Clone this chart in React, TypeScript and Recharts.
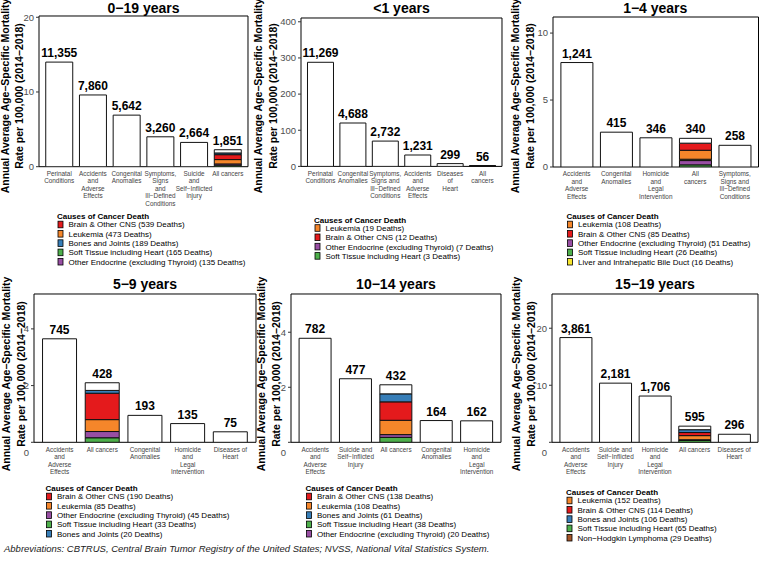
import { Bar, BarChart, CartesianGrid, LabelList, XAxis, YAxis } from "recharts";

const FONT = "'Liberation Sans', Arial, sans-serif";

// stacking order, bottom to top
const CANCER_KEYS = ["soft", "endo", "nhl", "liver", "leuk", "brain", "bones", "other"];

const CANCER_COLORS: Record<string, string> = {
  soft: "#4DAF4A",
  endo: "#984EA3",
  nhl: "#A65628",
  liver: "#F7E62D",
  leuk: "#F5862A",
  brain: "#E41A1C",
  bones: "#377EB8",
  other: "#FFFFFF",
};

// 0-19 years
const CAT_0_19 = [
  "Perinatal\nConditions",
  "Accidents\nand\nAdverse\nEffects",
  "Congenital\nAnomalies",
  "Symptoms,\nSigns\nand\nIll−Defined\nConditions",
  "Suicide\nand\nSelf−Inflicted\nInjury",
  "All cancers",
];
const RATE_0_19 = [14.0, 9.6, 6.9, 4.0, 3.25, null];
const DEATHS_0_19 = ["11,355", "7,860", "5,642", "3,260", "2,664", "1,851"];
const CANCER_0_19 = [0.2, 0.17, 0, 0, 0.58, 0.66, 0.23, 0.43];
const LEGEND_0_19 = [
  ["brain", "Brain & Other CNS (539 Deaths)"],
  ["leuk", "Leukemia (473 Deaths)"],
  ["bones", "Bones and Joints (189 Deaths)"],
  ["soft", "Soft Tissue including Heart (165 Deaths)"],
  ["endo", "Other Endocrine (excluding Thyroid) (135 Deaths)"],
];

// <1 years
const CAT_LT1 = [
  "Perinatal\nConditions",
  "Congenital\nAnomalies",
  "Symptoms,\nSigns and\nIll−Defined\nConditions",
  "Accidents\nand\nAdverse\nEffects",
  "Diseases\nof\nHeart",
  "All\ncancers",
];
const RATE_LT1 = [288, 120, 70, 31.5, 7.7, null];
const DEATHS_LT1 = ["11,269", "4,688", "2,732", "1,231", "299", "56"];
const CANCER_LT1 = [0.08, 0.18, 0, 0, 0.49, 0.31, 0, 0.37];
const LEGEND_LT1 = [
  ["leuk", "Leukemia (19 Deaths)"],
  ["brain", "Brain & Other CNS (12 Deaths)"],
  ["endo", "Other Endocrine (excluding Thyroid) (7 Deaths)"],
  ["soft", "Soft Tissue including Heart (3 Deaths)"],
];

// 1-4 years
const CAT_1_4 = [
  "Accidents\nand\nAdverse\nEffects",
  "Congenital\nAnomalies",
  "Homicide\nand\nLegal\nIntervention",
  "All\ncancers",
  "Symptoms,\nSigns and\nIll−Defined\nConditions",
];
const RATE_1_4 = [7.8, 2.6, 2.18, null, 1.62];
const DEATHS_1_4 = ["1,241", "415", "346", "340", "258"];
const CANCER_1_4 = [0.16, 0.32, 0, 0.1, 0.67, 0.53, 0, 0.36];
const LEGEND_1_4 = [
  ["leuk", "Leukemia (108 Deaths)"],
  ["brain", "Brain & Other CNS (85 Deaths)"],
  ["endo", "Other Endocrine (excluding Thyroid) (51 Deaths)"],
  ["soft", "Soft Tissue including Heart (26 Deaths)"],
  ["liver", "Liver and Intrahepatic Bile Duct (16 Deaths)"],
];

// 5-9 years
const CAT_5_9 = [
  "Accidents\nand\nAdverse\nEffects",
  "All cancers",
  "Congenital\nAnomalies",
  "Homicide\nand\nLegal\nIntervention",
  "Diseases of\nHeart",
];
const RATE_5_9 = [3.65, null, 0.95, 0.66, 0.37];
const DEATHS_5_9 = ["745", "428", "193", "135", "75"];
const CANCER_5_9 = [0.16, 0.22, 0, 0, 0.42, 0.93, 0.1, 0.27];
const LEGEND_5_9 = [
  ["brain", "Brain & Other CNS (190 Deaths)"],
  ["leuk", "Leukemia (85 Deaths)"],
  ["endo", "Other Endocrine (excluding Thyroid) (45 Deaths)"],
  ["soft", "Soft Tissue including Heart (33 Deaths)"],
  ["bones", "Bones and Joints (20 Deaths)"],
];

// 10-14 years
const CAT_10_14 = [
  "Accidents\nand\nAdverse\nEffects",
  "Suicide and\nSelf−Inflicted\nInjury",
  "All cancers",
  "Congenital\nAnomalies",
  "Homicide\nand\nLegal\nIntervention",
];
const RATE_10_14 = [3.78, 2.31, null, 0.79, 0.78];
const DEATHS_10_14 = ["782", "477", "432", "164", "162"];
const CANCER_10_14 = [0.18, 0.1, 0, 0, 0.52, 0.67, 0.29, 0.33];
const LEGEND_10_14 = [
  ["brain", "Brain & Other CNS (138 Deaths)"],
  ["leuk", "Leukemia (108 Deaths)"],
  ["bones", "Bones and Joints (61 Deaths)"],
  ["soft", "Soft Tissue including Heart (38 Deaths)"],
  ["endo", "Other Endocrine (excluding Thyroid) (20 Deaths)"],
];

// 15-19 years
const CAT_15_19 = [
  "Accidents\nand\nAdverse\nEffects",
  "Suicide and\nSelf−Inflicted\nInjury",
  "Homicide\nand\nLegal\nIntervention",
  "All cancers",
  "Diseases of\nHeart",
];
const RATE_15_19 = [18.36, 10.37, 8.11, null, 1.41];
const DEATHS_15_19 = ["3,861", "2,181", "1,706", "595", "296"];
const CANCER_15_19 = [0.31, 0, 0.14, 0, 0.72, 0.54, 0.5, 0.62];
const LEGEND_15_19 = [
  ["leuk", "Leukemia (152 Deaths)"],
  ["brain", "Brain & Other CNS (114 Deaths)"],
  ["bones", "Bones and Joints (106 Deaths)"],
  ["soft", "Soft Tissue including Heart (65 Deaths)"],
  ["nhl", "Non−Hodgkin Lymphoma (29 Deaths)"],
];

const PANELS = [
  { title: "0−19 years", cats: CAT_0_19, rates: RATE_0_19, deaths: DEATHS_0_19, cancer: CANCER_0_19, legend: LEGEND_0_19,
    box: [39, 248, 16, 166.7], yTop: 20.17, ticks: [0, 10, 20], yt: [9, 23], leg: [57, 219], bottom: false },
  { title: "<1 years", cats: CAT_LT1, rates: RATE_LT1, deaths: DEATHS_LT1, cancer: CANCER_LT1, legend: LEGEND_LT1,
    box: [301, 502, 18.3, 166.7], yTop: 410.5, ticks: [0, 100, 200, 300, 400], yt: [262, 277], leg: [314, 222.5], bottom: false },
  { title: "1−4 years", cats: CAT_1_4, rates: RATE_1_4, deaths: DEATHS_1_4, cancer: CANCER_1_4, legend: LEGEND_1_4,
    box: [552.5, 758, 16.7, 166.7], yTop: 11.2, ticks: [0, 5, 10], yt: [518.5, 533.5], leg: [566.5, 219], bottom: false },
  { title: "5−9 years", cats: CAT_5_9, rates: RATE_5_9, deaths: DEATHS_5_9, cancer: CANCER_5_9, legend: LEGEND_5_9,
    box: [34, 256, 294, 442.3], yTop: 5.23, ticks: [0, 2, 4], yt: [10, 25], leg: [45.5, 491], bottom: true },
  { title: "10−14 years", cats: CAT_10_14, rates: RATE_10_14, deaths: DEATHS_10_14, cancer: CANCER_10_14, legend: LEGEND_10_14,
    box: [291, 501, 294, 442.3], yTop: 5.39, ticks: [0, 2, 4], yt: [265, 280], leg: [305.5, 491], bottom: true },
  { title: "15−19 years", cats: CAT_15_19, rates: RATE_15_19, deaths: DEATHS_15_19, cancer: CANCER_15_19, legend: LEGEND_15_19,
    box: [552, 758, 294, 442.3], yTop: 26.0, ticks: [0, 10, 20], yt: [520, 535], leg: [566, 495], bottom: true },
];

function buildRows(cats: string[], rates: (number | null)[], deaths: string[], cancer: number[]) {
  return cats.map((cat, i) => {
    const isCancer = rates[i] == null;
    const row: Record<string, any> = {
      cat,
      main: isCancer ? 0 : rates[i],
      mainLabel: isCancer ? undefined : deaths[i],
      cancerLabel: isCancer ? deaths[i] : undefined,
    };
    CANCER_KEYS.forEach((k, j) => {
      row[k] = isCancer ? cancer[j] : 0;
    });
    return row;
  });
}

function renderValue(props: any) {
  const value = props.value;
  if (value == null || value === "") return null;
  const vb = props.viewBox ?? props;
  const x = Number(vb.x ?? props.x);
  const y = Number(vb.y ?? props.y);
  const w = Number(vb.width ?? props.width);
  return (
    <text x={x + w / 2} y={y - 5} textAnchor="middle" fontSize={12} fontWeight="bold" fill="#000" fontFamily={FONT}>
      {value}
    </text>
  );
}

function CatTick(props: any) {
  const { x, y, payload } = props;
  const lines = String(payload.value).split("\n");
  return (
    <text x={x} y={y + 9.3} textAnchor="middle" fontSize={6.4} fill="#444" fontFamily={FONT}>
      {lines.map((line, i) => (
        <tspan key={i} x={x} dy={i === 0 ? 0 : 7.5}>
          {line}
        </tspan>
      ))}
    </text>
  );
}

function ValueTick(props: any) {
  const { x, y, payload, shiftZero } = props;
  const v = payload.value;
  return (
    <text
      x={Number(x)}
      y={Number(y) + 3.4 + (shiftZero && v === 0 ? 10 : 0)}
      textAnchor="end"
      fontSize={9.5}
      fill="#4d4d4d"
      fontFamily={FONT}
    >
      {String(v)}
    </text>
  );
}

function Panel({ p }: { p: (typeof PANELS)[number] }) {
  const rows = buildRows(p.cats, p.rates, p.deaths, p.cancer);
  const [x0, x1, y0, y1] = p.box;
  const W = x1 - x0;
  const H = y1 - y0;
  const u = W / (p.cats.length + 0.2);
  const pad = 0.1 * u;
  const AXW = 36;
  const TOP = 4;
  const XH = 50;
  return (
    <div style={{ position: "absolute", left: x0 - AXW, top: y0 - TOP }}>
      <BarChart
        width={W + AXW + 4}
        height={H + TOP + XH}
        data={rows}
        margin={{ top: TOP, right: 4, left: 0, bottom: 0 }}
        barCategoryGap="10%"
      >
        <CartesianGrid
          stroke="#000"
          strokeWidth={1}
          horizontalCoordinatesGenerator={({ offset }: any) => [offset.top, offset.top + offset.height]}
          verticalCoordinatesGenerator={({ offset }: any) => [offset.left, offset.left + offset.width]}
        />
        <XAxis
          dataKey="cat"
          height={XH}
          interval={0}
          padding={{ left: pad, right: pad }}
          axisLine={false}
          tickLine={false}
          tickSize={0}
          tickMargin={0}
          tick={(props: any) => <CatTick {...props} />}
        />
        <YAxis
          width={AXW}
          type="number"
          domain={[0, p.yTop]}
          ticks={p.ticks}
          interval={0}
          allowDataOverflow
          axisLine={false}
          tickSize={3}
          tickMargin={2}
          tickLine={{ stroke: "#333" }}
          tick={(props: any) => <ValueTick {...props} shiftZero={p.bottom} />}
        />
        <Bar dataKey="main" stackId="s" fill="#fff" stroke="#111" strokeWidth={1} isAnimationActive={false}>
          <LabelList dataKey="mainLabel" content={renderValue} />
        </Bar>
        {CANCER_KEYS.map((k) => (
          <Bar
            key={k}
            dataKey={k}
            stackId="s"
            fill={CANCER_COLORS[k]}
            stroke="#111"
            strokeWidth={1}
            isAnimationActive={false}
          >
            {k === "other" ? <LabelList dataKey="cancerLabel" content={renderValue} /> : null}
          </Bar>
        ))}
      </BarChart>
    </div>
  );
}

function Overlay() {
  return (
    <svg width={760} height={565} style={{ position: "absolute", left: 0, top: 0, pointerEvents: "none" }} fontFamily={FONT}>
      {PANELS.map((p) => {
        const [x0, x1] = p.box;
        const cx = (x0 + x1) / 2;
        const cy = p.bottom ? 374 : 96;
        const [hx, hy] = p.leg;
        return (
          <g key={p.title}>
            <text x={cx} y={p.bottom ? 289 : 13} textAnchor="middle" fontSize={14} fontWeight="bold" fill="#000">
              {p.title}
            </text>
            <text transform={`translate(${p.yt[0]},${cy}) rotate(-90)`} textAnchor="middle" fontSize={10.5} fontWeight="bold" fill="#000">
              Annual Average Age−Specific Mortality
            </text>
            <text transform={`translate(${p.yt[1]},${cy}) rotate(-90)`} textAnchor="middle" fontSize={10.5} fontWeight="bold" fill="#000">
              Rate per 100,000 (2014−2018)
            </text>
            <text x={hx} y={hy} fontSize={8} fontWeight="bold" fill="#000">
              Causes of Cancer Death
            </text>
            {p.legend.map(([k, label], i) => {
              const c = hy + 5.5 + i * 9.3;
              return (
                <g key={k}>
                  <rect x={hx + 1} y={c - 3.3} width={5} height={6.6} fill={CANCER_COLORS[k]} stroke="#000" strokeWidth={0.8} />
                  <text x={hx + 11.5} y={c + 2.9} fontSize={8} fill="#000">
                    {label}
                  </text>
                </g>
              );
            })}
          </g>
        );
      })}
      <text x={4} y={552} fontSize={9.5} fontStyle="italic" fill="#222">
        Abbreviations: CBTRUS, Central Brain Tumor Registry of the United States; NVSS, National Vital Statistics System.
      </text>
    </svg>
  );
}

export default function App() {
  return (
    <div
      style={{
        position: "absolute",
        left: 0,
        top: 0,
        width: 760,
        height: 565,
        overflow: "hidden",
        background: "#fff",
        fontFamily: FONT,
      }}
    >
      {PANELS.map((p) => (
        <Panel key={p.title} p={p} />
      ))}
      <Overlay />
    </div>
  );
}
